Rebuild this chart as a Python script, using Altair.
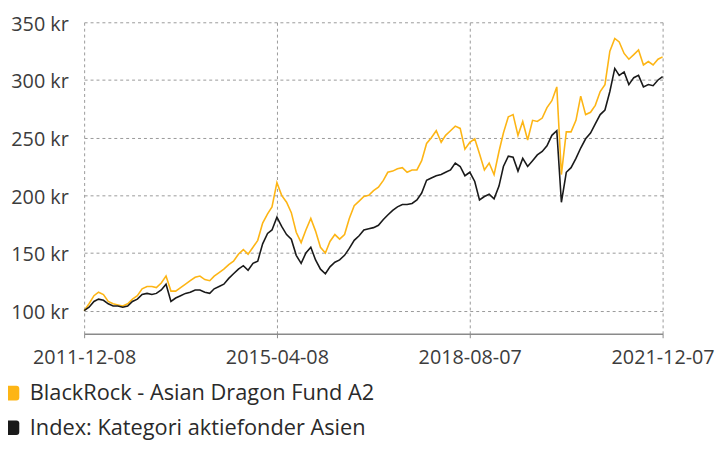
import altair as alt
import pandas as pd

dates = [
    "2011-12-08",
    "2012-01-08", "2012-02-08", "2012-03-08", "2012-04-08", "2012-05-08", "2012-06-08",
    "2012-07-08", "2012-08-08", "2012-09-08", "2012-10-08", "2012-11-08", "2012-12-08",
    "2013-01-08", "2013-02-08", "2013-03-08", "2013-04-08", "2013-05-08", "2013-06-08",
    "2013-07-08", "2013-08-08", "2013-09-08", "2013-10-08", "2013-11-08", "2013-12-08",
    "2014-01-08", "2014-02-08", "2014-03-08", "2014-04-08", "2014-05-08", "2014-06-08",
    "2014-07-08", "2014-08-08", "2014-09-08", "2014-10-08", "2014-11-08", "2014-12-08",
    "2015-01-08", "2015-02-08", "2015-03-08", "2015-04-08", "2015-05-08", "2015-06-08",
    "2015-07-08", "2015-08-08", "2015-09-08", "2015-10-08", "2015-11-08", "2015-12-08",
    "2016-01-08", "2016-02-08", "2016-03-08", "2016-04-08", "2016-05-08", "2016-06-08",
    "2016-07-08", "2016-08-08", "2016-09-08", "2016-10-08", "2016-11-08", "2016-12-08",
    "2017-01-08", "2017-02-08", "2017-03-08", "2017-04-08", "2017-05-08", "2017-06-08",
    "2017-07-08", "2017-08-08", "2017-09-08", "2017-10-08", "2017-11-08", "2017-12-08",
    "2018-01-08", "2018-02-08", "2018-03-08", "2018-04-08", "2018-05-08", "2018-06-08",
    "2018-07-08", "2018-08-08", "2018-09-08", "2018-10-08", "2018-11-08", "2018-12-08",
    "2019-01-08", "2019-02-08", "2019-03-08", "2019-04-08", "2019-05-08", "2019-06-08",
    "2019-07-08", "2019-08-08", "2019-09-08", "2019-10-08", "2019-11-08", "2019-12-08",
    "2020-01-08", "2020-02-08", "2020-03-08", "2020-04-08", "2020-05-08", "2020-06-08",
    "2020-07-08", "2020-08-08", "2020-09-08", "2020-10-08", "2020-11-08", "2020-12-08",
    "2021-01-08", "2021-02-08", "2021-03-08", "2021-04-08", "2021-05-08", "2021-06-08",
    "2021-07-08", "2021-08-08", "2021-09-08", "2021-10-08", "2021-11-08", "2021-12-07",
]

fund = [
    100,
    106, 113, 116, 114, 108, 106, 105, 104, 106, 110, 113, 119,
    121, 121, 120, 124, 130, 117, 117, 120, 123, 126, 129, 130,
    127, 126, 130, 133, 136, 140, 143, 149, 153, 149, 155, 161,
    176, 184, 190, 211, 200, 194, 185, 168, 159, 170, 180, 169,
    155, 150, 160, 166, 162, 166, 180, 191, 195, 199, 200, 204,
    207, 213, 220, 221, 223, 224, 220, 222, 222, 230, 245, 250,
    256, 246, 252, 256, 260, 258, 240, 246, 249, 236, 222, 228,
    218, 238, 254, 268, 270, 252, 264, 248, 265, 264, 267, 276,
    282, 294, 218, 255, 255, 265, 286, 270, 272, 278, 290, 296,
    325, 336, 333, 323, 318, 322, 326, 313, 316, 313, 318, 320,
]

index = [
    100,
    103, 108, 110, 109, 106, 104, 104, 103, 104, 108, 110, 114,
    115, 114, 115, 118, 123, 108, 111, 113, 115, 116, 118, 118,
    116, 115, 119, 121, 123, 128, 132, 136, 139, 135, 141, 143,
    158, 167, 170, 181, 173, 166, 162, 148, 141, 150, 155, 144,
    136, 132, 138, 142, 144, 148, 154, 161, 165, 170, 171, 172,
    174, 179, 183, 187, 190, 192, 192, 193, 196, 202, 213, 215,
    217, 218, 220, 222, 228, 225, 217, 220, 212, 196, 199, 201,
    197, 208, 225, 234, 233, 221, 232, 225, 230, 235, 238, 243,
    252, 256, 194, 220, 224, 232, 241, 249, 254, 262, 270, 274,
    290, 310, 304, 307, 296, 302, 304, 294, 296, 295, 300, 303,
]

series_names = ["BlackRock - Asian Dragon Fund A2", "Index: Kategori aktiefonder Asien"]
series_colors = ["#FDB515", "#1A1A1A"]
x_ticks = ["2011-12-08", "2015-04-08", "2018-08-07", "2021-12-07"]
y_ticks = [100, 150, 200, 250, 300, 350]
y_domain = [80, 350]

df = pd.concat([
    pd.DataFrame({"date": dates, "value": fund, "series": series_names[0]}),
    pd.DataFrame({"date": dates, "value": index, "series": series_names[1]}),
])


def dt(s):
    y, m, d = (int(p) for p in s.split("-"))
    return alt.DateTime(year=y, month=m, date=d, utc=True)


FONT = "Open Sans"
ROUNDED_RECT = (
    "M-0.6,-1 L0.6,-1 Q1,-1 1,-0.6 L1,0.6 Q1,1 0.6,1 "
    "L-0.6,1 Q-1,1 -1,0.6 L-1,-0.6 Q-1,-1 -0.6,-1 Z"
)
SYMBOL_SIZE = 220

x_enc = alt.X(
    "date:T",
    title=None,
    scale=alt.Scale(type="utc", domain=[dt(x_ticks[0]), dt(x_ticks[-1])], nice=False),
    axis=alt.Axis(
        values=[dt(t) for t in x_ticks],
        labelExpr="utcFormat(datum.value, '%Y-%m-%d')",
        grid=True, gridDash=[3, 3], gridColor="#9a9a9a", gridWidth=1,
        domain=True, domainColor="#8a8a8a", domainWidth=1.5,
        ticks=True, tickColor="#8a8a8a", tickSize=4,
        labelPadding=10, labelFontSize=20, labelColor="#3c3c3c",
        labelFont=FONT, labelFlush=False,
    ),
)
y_enc = alt.Y(
    "value:Q",
    title=None,
    scale=alt.Scale(domain=y_domain, nice=False, zero=False),
    axis=alt.Axis(
        values=y_ticks,
        labelExpr="datum.value + ' kr'",
        grid=True, gridDash=[3, 3], gridColor="#9a9a9a", gridWidth=1,
        domain=False, ticks=False,
        labelPadding=16, labelFontSize=20, labelColor="#3c3c3c",
        labelFont=FONT, labelOffset=2,
    ),
)


def make_legend():
    return alt.Legend(
        orient="none", legendX=-84, legendY=364, direction="vertical",
        title=None, symbolType=ROUNDED_RECT, symbolSize=SYMBOL_SIZE,
        symbolStrokeWidth=0, symbolOpacity=1, labelFontSize=22, labelFont=FONT,
        labelColor="#2a2a2a", rowPadding=13, labelOffset=7, padding=0,
        labelLimit=500,
    )


lines = alt.Chart(df).mark_line(strokeWidth=1.6).encode(
    x=x_enc,
    y=y_enc,
    stroke=alt.Stroke("series:N", scale=alt.Scale(domain=series_names, range=series_colors),
                      legend=make_legend()),
)

# Layer with no rows (filter keeps nothing); it only gives the legend filled symbols
legend_layer = alt.Chart(df).mark_point(
    filled=True, shape=ROUNDED_RECT, opacity=1, size=SYMBOL_SIZE
).encode(
    x=x_enc,
    y=y_enc,
    fill=alt.Fill("series:N", scale=alt.Scale(domain=series_names, range=series_colors),
                  legend=make_legend()),
).transform_filter(alt.datum.value < 0)

chart = alt.layer(lines, legend_layer).properties(
    width=585,
    height=315,
    autosize=alt.AutoSizeParams(type="none"),
    padding={"left": 77, "top": 12, "right": 54, "bottom": 107},
).configure_view(stroke=None)

chart.save("out.html", embed_options={"renderer": "svg", "actions": False})
